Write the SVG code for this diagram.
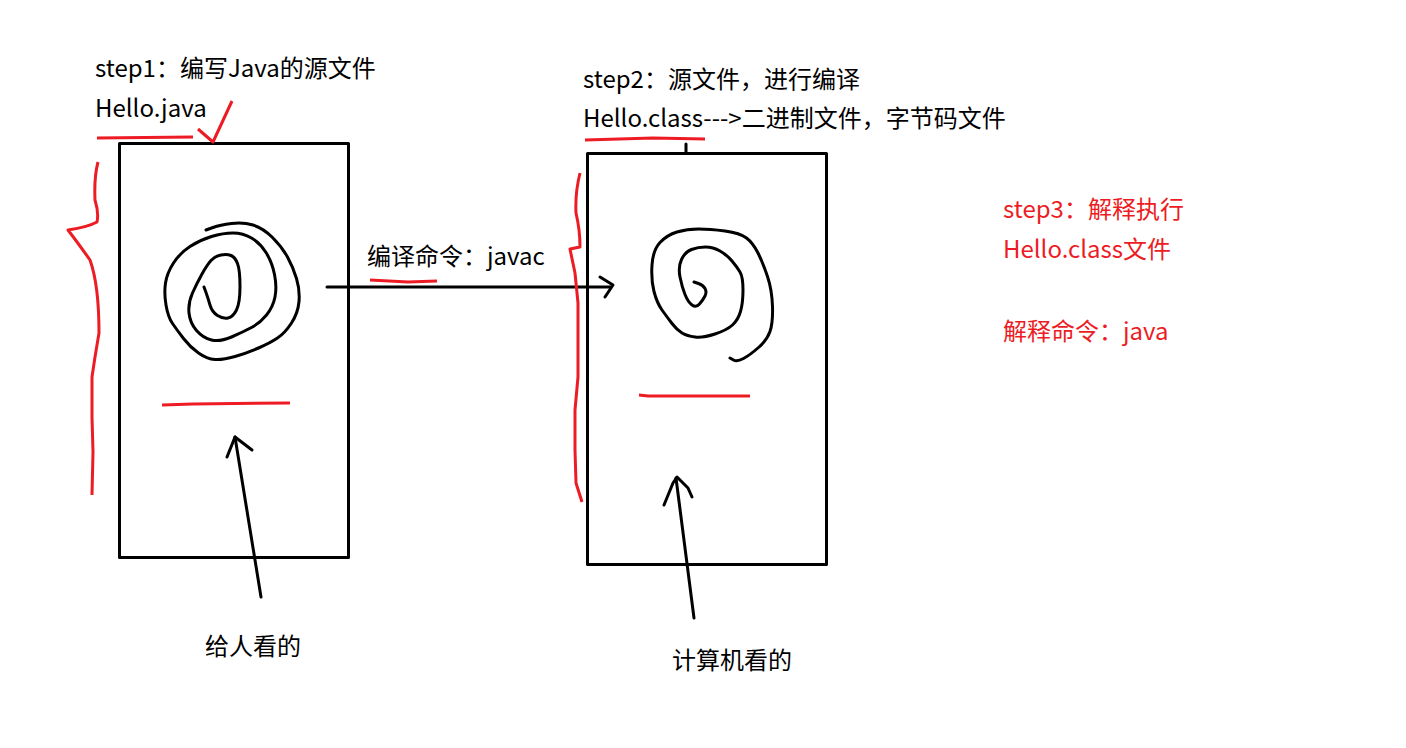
<svg xmlns="http://www.w3.org/2000/svg" width="1406" height="748" viewBox="0 0 1406 748">
<style>
text{font-family:"Microsoft YaHei","Noto Sans CJK SC","Noto Sans",sans-serif;font-size:24px;fill:#000}
.red{fill:#ED1C24}
.k{fill:none;stroke:#000;stroke-width:3;stroke-linejoin:round;stroke-linecap:round}
.r{fill:none;stroke:#ED1C24;stroke-width:3;stroke-linejoin:round;stroke-linecap:butt}
</style>
<rect width="1406" height="748" fill="#fff"/>
<g id="source-file">
<rect x="119.5" y="143.5" width="229" height="414" class="k" stroke-linejoin="miter"/>
<path class="k" d="M206,230 L213,227.5 Q220,225 231.5,223.5 Q243,222 253,225 Q263,228 272.5,237.5 Q282,247 287.5,257 Q293,267 296.5,278.5 Q300,290 299,301.5 Q298,313 291.5,323 Q285,333 277.5,338 Q270,343 258.5,348 Q247,353 235,356.5 Q223,360 215,359.5 Q207,359 198.5,353 Q190,347 183.5,338.5 Q177,330 172.5,323.5 Q168,317 166,305 Q164,293 165.5,283 Q167,273 173.5,263 Q180,253 190,246.5 Q200,240 211.5,236.5 Q223,233 233,233 Q243,233 251.5,238 Q260,243 266,252.5 Q272,262 274.5,274.5 Q277,287 275,297 Q273,307 266.5,315 Q260,323 251.5,327.5 Q243,332 231.5,337 Q220,342 211.5,340 Q203,338 196.5,330.5 Q190,323 189,313 Q188,303 192.5,293 Q197,283 202,274 Q207,265 211,260.5 Q215,256 221,255 Q227,254 231,255.5 Q235,257 237.5,263.5 Q240,270 240,286.5 Q240,303 236.5,310 Q233,317 228,318 Q223,319 217.5,315.5 Q212,312 210,305 Q208,298 206,292.5 L204,287"/>
<path class="r" d="M162,405 L193,404 L290,403"/>
</g>
<g id="class-file">
<rect x="587.5" y="153.5" width="239" height="411" class="k" stroke-linejoin="miter"/>
<path class="k" d="M686,144 L686,153"/>
<path class="k" d="M694,282 L698.5,283.5 Q703,285 705,288.5 Q707,292 705,296 Q703,300 699.5,304 Q696,308 692,305 Q688,302 685,294.5 Q682,287 680,277 Q678,267 681.5,259.5 Q685,252 691.5,249.5 Q698,247 705.5,247 Q713,247 720,251 Q727,255 732,261 Q737,267 740,272 Q743,277 743,290 Q743,303 740.5,311.5 Q738,320 732.5,325 Q727,330 715,334 Q703,338 695,337 Q687,336 682,333 Q677,330 672,323.5 Q667,317 662,310 Q657,303 654,291.5 Q651,280 652,265 Q653,250 660,242.5 Q667,235 677,232 Q687,229 698.5,229 Q710,229 725,231 Q740,233 746.5,238 Q753,243 758,253 Q763,263 767.5,276.5 Q772,290 772.5,306.5 Q773,323 770,331.5 Q767,340 758.5,347.5 Q750,355 743.5,358.5 Q737,362 733.5,360 L730,358"/>
<path class="r" d="M639,395 L648,396 L750,396"/>
</g>
<g id="connectors">
<path class="k" d="M327,287 L611,287"/>
<path class="k" d="M600,277 L613,285 L605,297"/>
<path class="k" d="M261,597 L235,437"/>
<path class="k" d="M227,457 L235,437 L252,450"/>
<path class="k" d="M694,618 L676,478"/>
<path class="k" d="M664,505 L673,483 L677,477 L688,488 L692,497"/>
</g>
<g id="annotations">
<path class="r" d="M97,138 L193,137"/>
<path class="r" d="M198,129 L213,142 L232,101"/>
<path class="r" d="M585,140 L653,138 L705,139"/>
<path class="r" stroke-width="4" d="M370,280 L408,282 L437,281"/>
<path class="r" d="M98,162 Q94,177 95,200 Q99,213 97,222 Q88,227 68,230 Q78,243 90,260 Q99,285 99,333 L95,357 L92,377 L92,417 L93,452 L92,495"/>
<path class="r" d="M580,173 Q575,193 576,213 Q580,230 580,247 L570,249 L575,273 L578,303 L578,377 L575,410 L575,450 L576,483 L582,502"/>
</g>
<g id="texts">
<text x="95" y="77">step1：编写Java的源文件</text>
<text x="95" y="117">Hello.java</text>
<text x="583" y="88">step2：源文件，进行编译</text>
<text x="583" y="127">Hello.class---&gt;二进制文件，字节码文件</text>
<text x="367" y="265">编译命令：javac</text>
<text class="red" x="1003" y="218">step3：解释执行</text>
<text class="red" x="1003" y="258">Hello.class文件</text>
<text class="red" x="1003" y="340">解释命令：java</text>
<text x="205" y="655">给人看的</text>
<text x="672" y="669">计算机看的</text>
</g>
</svg>
